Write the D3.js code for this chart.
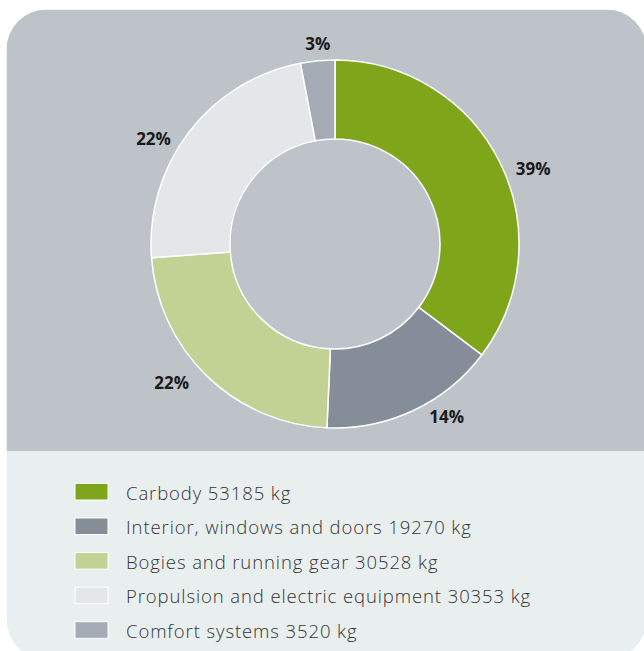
<!DOCTYPE html>
<html>
<head>
<meta charset="utf-8">
<script src="https://cdn.jsdelivr.net/npm/d3@7"></script>
<style>
  html, body { margin: 0; padding: 0; background: #ffffff; }
  svg { display: block; }
</style>
</head>
<body>
<svg id="chart" width="644" height="651"></svg>
<script>
// ---- data ----
const categories = ["Carbody", "Interior, windows and doors", "Bogies and running gear",
                    "Propulsion and electric equipment", "Comfort systems"];
const weightsKg = [53185, 19270, 30528, 30353, 3520];
const percentLabels = ["39%", "14%", "22%", "22%", "3%"];
// slice shares (%) as actually drawn in the reference picture
const sliceShares = [35.3, 15.4, 23.1, 23.2, 3.0];
const colors = ["#7fa61a", "#858e98", "#c2d194", "#e4e6e9", "#a5abb4"];

// ---- layout ----
const svg = d3.select("#chart");
const card = { x: 6.5, y: 9.5, w: 640, h: 650, r: 40 };
const splitY = 451;
const cx = 335, cy = 244, R = 184, r0 = 105;

const defs = svg.append("defs");
defs.append("clipPath").attr("id", "cardClip")
  .append("rect")
  .attr("x", card.x).attr("y", card.y).attr("width", card.w).attr("height", card.h)
  .attr("rx", card.r).attr("ry", card.r);

const cardG = svg.append("g").attr("clip-path", "url(#cardClip)");
cardG.append("rect").attr("x", card.x).attr("y", card.y)
  .attr("width", card.w).attr("height", splitY - card.y).attr("fill", "#bec2c9");
cardG.append("rect").attr("x", card.x).attr("y", splitY)
  .attr("width", card.w).attr("height", card.y + card.h - splitY).attr("fill", "#e9efef");

// ---- donut ----
const pie = d3.pie().sort(null).value(d => d.share).startAngle(0).endAngle(2 * Math.PI);
const data = categories.map((c, i) => ({
  name: c, kg: weightsKg[i], share: sliceShares[i], label: percentLabels[i], color: colors[i]
}));
const arcs = pie(data);
const arc = d3.arc().innerRadius(r0).outerRadius(R);

const g = svg.append("g").attr("transform", `translate(${cx},${cy})`);
g.selectAll("path.slice").data(arcs).join("path")
  .attr("class", "slice")
  .attr("d", arc)
  .attr("fill", d => d.data.color)
  .attr("stroke", "#ffffff")
  .attr("stroke-width", 1.5)
  .attr("stroke-linejoin", "round");

// percentage labels
g.selectAll("text.pct").data(arcs).join("text")
  .attr("class", "pct")
  .each(function(d) {
    const a = (d.startAngle + d.endAngle) / 2;
    const px = R * Math.sin(a), py = -R * Math.cos(a);
    const t = d3.select(this);
    if (Math.abs(Math.sin(a)) < 0.2) {
      t.attr("x", px).attr("y", py - 17).attr("text-anchor", "middle");
    } else if (Math.sin(a) > 0) {
      t.attr("x", px + 16).attr("y", py + 6).attr("text-anchor", "start");
    } else {
      t.attr("x", px - 18).attr("y", py + 6).attr("text-anchor", "end");
    }
  })
  .attr("dominant-baseline", "central")
  .attr("font-family", "'Open Sans', 'Noto Sans', sans-serif")
  .attr("font-weight", 700)
  .attr("font-size", 17)
  .attr("fill", "#1a1a1a")
  .text(d => d.data.label);

// ---- legend ----
const legend = svg.append("g");
const rowY = d3.scalePoint().domain(categories).range([491.7, 630]);
const rows = legend.selectAll("g.row").data(data).join("g")
  .attr("class", "row")
  .attr("transform", d => `translate(0,${rowY(d.name)})`);
rows.append("rect")
  .attr("x", 75).attr("y", -8.3).attr("width", 33).attr("height", 16.6)
  .attr("fill", d => d.color)
  .attr("stroke", "#ffffff").attr("stroke-width", 1);
rows.append("text")
  .attr("x", 126).attr("y", 8)
  .attr("font-family", "'Open Sans', 'Noto Sans', sans-serif")
  .attr("font-weight", 300)
  .attr("font-size", 18.5)
  .attr("letter-spacing", 0.9)
  .attr("fill", "#333333")
  .text(d => `${d.name} ${d.kg} kg`);
</script>
</body>
</html>
